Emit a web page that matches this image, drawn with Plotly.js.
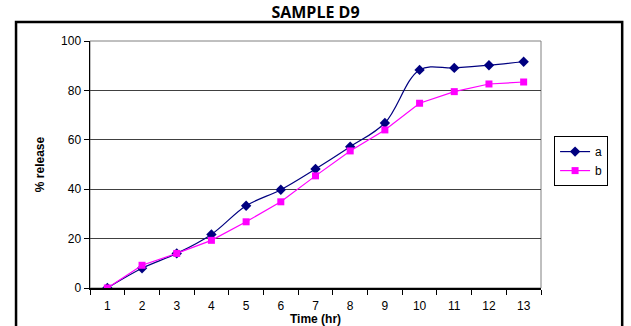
<!DOCTYPE html>
<html>
<head>
<meta charset="utf-8">
<script src="https://cdn.plot.ly/plotly-3.0.1.min.js"></script>
<style>html,body{margin:0;padding:0;background:#fff;}#chart{width:631px;height:326px;}</style>
</head>
<body>
<div id="chart"></div>
<script>
var timeLabels = ['1','2','3','4','5','6','7','8','9','10','11','12','13'];
var seriesA = [0, 8, 14, 21.7, 33.3, 39.8, 48.2, 57.2, 66.8, 88.3, 89.1, 90.2, 91.6];
var seriesB = [0, 9.2, 14, 19.3, 26.8, 34.9, 45.4, 55.5, 64, 74.8, 79.5, 82.6, 83.4];
var yTicks = [0, 20, 40, 60, 80, 100];

var font = 'Liberation Sans, Arial, sans-serif';

var traces = [
  {x: timeLabels, y: seriesA, name: 'a', type: 'scatter', mode: 'lines+markers',
   line: {color: '#000080', width: 1.2, shape: 'spline', smoothing: 1},
   marker: {symbol: 'diamond', size: 8, color: '#000080'}},
  {x: timeLabels, y: seriesB, name: 'b', type: 'scatter', mode: 'lines+markers',
   line: {color: '#FF00FF', width: 1.2},
   marker: {symbol: 'square', size: 7, color: '#FF00FF'}}
];

var layout = {
  width: 631, height: 326,
  margin: {l: 90, r: 90, t: 41, b: 38},
  paper_bgcolor: '#fff', plot_bgcolor: '#fff',
  showlegend: true,
  font: {family: font, size: 12, color: '#000'},
  title: {text: '<b>SAMPLE D9</b>', font: {family: 'Open Sans, sans-serif', size: 16, color: '#000'},
          x: 0.5, xanchor: 'center', xref: 'paper', y: 0.962, yanchor: 'middle', yref: 'container'},
  xaxis: {type: 'category', range: [-0.5, 12.5], tickson: 'boundaries', ticks: 'outside', ticklen: 5, tickcolor: '#000',
          showline: true, linecolor: '#000', linewidth: 1.5, showgrid: false, zeroline: false,
          tickfont: {family: font, size: 12}, ticklabelstandoff: 6,
          title: {text: '<b>Time (hr)</b>', font: {family: font, size: 12}, standoff: 3}},
  yaxis: {range: [0, 100], tickvals: yTicks, ticks: 'outside', ticklen: 5, tickcolor: '#000',
          showline: true, linecolor: '#000', linewidth: 1.5, showgrid: true, gridcolor: '#404040',
          gridwidth: 1, zeroline: false, tickfont: {family: font, size: 12},
          title: {text: '<b>% release</b>', font: {family: font, size: 12}, standoff: 14}},
  legend: {x: 1.029, y: 0.615, xanchor: 'left', yanchor: 'top', bordercolor: '#000', borderwidth: 1,
           bgcolor: '#fff', font: {family: font, size: 12}, tracegroupgap: 0, itemwidth: 30},
  shapes: [
    {type: 'rect', xref: 'paper', yref: 'paper', x0: 0, x1: 1, y0: 0, y1: 1,
     line: {color: '#808080', width: 1}, layer: 'below'},
    {type: 'rect', xref: 'paper', yref: 'paper', x0: -0.164, x1: 1.18, y0: -0.3, y1: 1.077,
     line: {color: '#000', width: 2.5}}
  ]
};

Plotly.newPlot('chart', traces, layout, {displayModeBar: false, staticPlot: true});
</script>
</body>
</html>
